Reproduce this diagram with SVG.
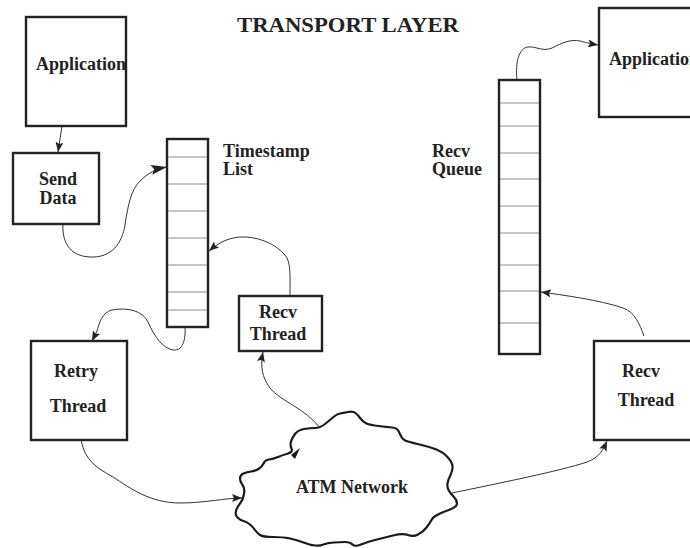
<svg xmlns="http://www.w3.org/2000/svg" width="690" height="548" viewBox="0 0 690 548">
  <style>
    .box { fill: #fff; stroke: #222; stroke-width: 2.4; }
    .div { stroke: #8a8a8a; stroke-width: 1; }
    .lbl { font-family: "Liberation Serif", "Times New Roman", serif; font-weight: bold; font-size: 18px; fill: #222; }
    .title { font-family: "Liberation Serif", "Times New Roman", serif; font-weight: bold; font-size: 22px; fill: #222; text-anchor: middle; }
    .mid { text-anchor: middle; }
    .wire { fill: none; stroke: #333; stroke-width: 1; }
    .cloud { fill: #fff; stroke: #1a1a1a; stroke-width: 2.2; stroke-linejoin: round; }
  </style>
  <defs>
    <marker id="ah" markerUnits="userSpaceOnUse" markerWidth="10" markerHeight="8" viewBox="0 0 10 8" refX="10" refY="4" orient="auto">
      <path d="M0,0 L10,4 L0,8 L2,4 Z" fill="#222"/>
    </marker>
    <marker id="ahBig" markerUnits="userSpaceOnUse" markerWidth="16" markerHeight="10" viewBox="0 0 16 10" refX="16" refY="5" orient="auto">
      <path d="M0,0 L16,5 L0,10 L3,5 Z" fill="#222"/>
    </marker>
  </defs>

  <rect width="690" height="548" fill="#fff"/>

  <text class="title" x="348" y="31.5" textLength="222" lengthAdjust="spacingAndGlyphs">TRANSPORT LAYER</text>

  <g id="connectors">
    <path class="wire" d="M62,126 L58,152" marker-end="url(#ah)"/>
    <path class="wire" d="M63,224 C62,240 68,256 90,257 C112,258 122,243 125,225 C128,205 131,190 140,181 C148,173 156,169 167,167" marker-end="url(#ahBig)"/>
    <path class="wire" d="M290,296 C290,275 291,262 285,255 C275,243 256,236 240,237 C226,238 216,245 209,251" marker-end="url(#ah)"/>
    <path class="wire" d="M185,327 C186,345 180,351 173,350 C163,348 155,338 148,322 C143,311 128,307 112,310 C102,312 99,324 97,331 L92,341" marker-end="url(#ah)"/>
    <path class="wire" d="M81,440 C85,460 95,467 113,477 C130,488 150,503 180,503 C205,503 225,498 242,498" marker-end="url(#ah)"/>
    <path class="wire" d="M320,428 C305,408 280,401 270,388 C262,377 260,366 263,352" marker-end="url(#ah)"/>
    <path class="wire" d="M452,493 C500,483 560,471 587,462 C600,457 603,450 607,441" marker-end="url(#ah)"/>
    <path class="wire" d="M644,336 C640,325 635,312 623,308 C600,300 562,295 541,292" marker-end="url(#ah)"/>
    <path class="wire" d="M517,80 C515,62 519,48 528,47 C536,46 542,52 552,48 C562,43 570,39 580,41 C588,43 592,44 598,45" marker-end="url(#ah)"/>
  </g>

  <g id="app-left">
    <rect class="box" x="26" y="17" width="100" height="109"/>
    <text class="lbl" x="36" y="70">Application</text>
  </g>

  <g id="send-data">
    <rect class="box" x="13" y="153" width="86" height="71"/>
    <text class="lbl mid" x="58" y="185">Send</text>
    <text class="lbl mid" x="58" y="204">Data</text>
  </g>

  <g id="timestamp-list">
    <rect class="box" x="167" y="139" width="41" height="188"/>
    <line class="div" x1="168" y1="157" x2="207" y2="157"/>
    <line class="div" x1="168" y1="184" x2="207" y2="184"/>
    <line class="div" x1="168" y1="211" x2="207" y2="211"/>
    <line class="div" x1="168" y1="238" x2="207" y2="238"/>
    <line class="div" x1="168" y1="265" x2="207" y2="265"/>
    <line class="div" x1="168" y1="292" x2="207" y2="292"/>
    <line class="div" x1="168" y1="310" x2="207" y2="310"/>
    <text class="lbl" x="223" y="157">Timestamp</text>
    <text class="lbl" x="223" y="175">List</text>
  </g>

  <g id="recv-thread-left">
    <rect class="box" x="239" y="296" width="83" height="55"/>
    <text class="lbl mid" x="278" y="318">Recv</text>
    <text class="lbl mid" x="278" y="340">Thread</text>
  </g>

  <g id="retry-thread">
    <rect class="box" x="31" y="341" width="96" height="99"/>
    <text class="lbl mid" x="76" y="377">Retry</text>
    <text class="lbl mid" x="78" y="412">Thread</text>
  </g>

  <g id="recv-queue">
    <rect class="box" x="499" y="80" width="41" height="274"/>
    <line class="div" x1="500" y1="103" x2="539" y2="103"/>
    <line class="div" x1="500" y1="126" x2="539" y2="126"/>
    <line class="div" x1="500" y1="153" x2="539" y2="153"/>
    <line class="div" x1="500" y1="179" x2="539" y2="179"/>
    <line class="div" x1="500" y1="206" x2="539" y2="206"/>
    <line class="div" x1="500" y1="233" x2="539" y2="233"/>
    <line class="div" x1="500" y1="265" x2="539" y2="265"/>
    <line class="div" x1="500" y1="291" x2="539" y2="291"/>
    <line class="div" x1="500" y1="323" x2="539" y2="323"/>
    <text class="lbl" x="432" y="157">Recv</text>
    <text class="lbl" x="432" y="175">Queue</text>
  </g>

  <g id="app-right">
    <rect class="box" x="599" y="8" width="110" height="109"/>
    <text class="lbl" x="609" y="65">Application</text>
  </g>

  <g id="recv-thread-right">
    <rect class="box" x="594" y="341" width="110" height="99"/>
    <text class="lbl mid" x="641" y="377">Recv</text>
    <text class="lbl mid" x="646" y="406">Thread</text>
  </g>

  <g id="atm-network">
    <path class="cloud" d="M340,413.5 Q343,413 348,412 Q353,411 355.5,413 Q358,415 360.5,418.5 Q363,422 366.5,423.5 Q370,425 378.5,426 Q387,427 392,427.5 Q397,428 398.5,431 Q400,434 401.5,437 Q403,440 408,441.5 Q413,443 421.5,445 Q430,447 436.5,449.5 Q443,452 447.5,457 Q452,462 452.5,466 Q453,470 450.5,475 Q448,480 447.5,483.5 Q447,487 448.5,490 Q450,493 453.5,496.5 Q457,500 457,503.5 Q457,507 450,509.5 Q443,512 438,514.5 Q433,517 431.5,520 Q430,523 426.5,527.5 Q423,532 418,534.5 Q413,537 408,535 Q403,533 393,535.5 Q383,538 375,540 Q367,542 361,544.5 Q355,547 352.5,544.5 Q350,542 345,542 Q340,542 333.5,542.5 Q327,543 323.5,544.5 Q320,546 315,545.5 Q310,545 303.5,542.5 Q297,540 290,538.5 Q283,537 273,537 Q263,537 260,535 Q257,533 255,530 Q253,527 250,524.5 Q247,522 243.5,521 Q240,520 237.5,517.5 Q235,515 236,511 Q237,507 240,503.5 Q243,500 244,494 Q245,488 242.5,485 Q240,482 240,478.5 Q240,475 243.5,473.5 Q247,472 251,471.5 Q255,471 258.5,469 Q262,467 263.5,463.5 Q265,460 269,459.5 Q273,459 278,457 Q283,455 288,453.5 Q293,452 291.5,448.5 Q290,445 291,441.5 Q292,438 295,434 Q298,430 304,429 Q310,428 315,428 Q320,428 325,424 Q330,420 333.5,417 Q337,414 340,413.5 Z"/>
    <path d="M291,455 L300,448 L295,459 Z" fill="#1a1a1a"/>
    <text class="lbl mid" x="352" y="493">ATM Network</text>
  </g>
</svg>
